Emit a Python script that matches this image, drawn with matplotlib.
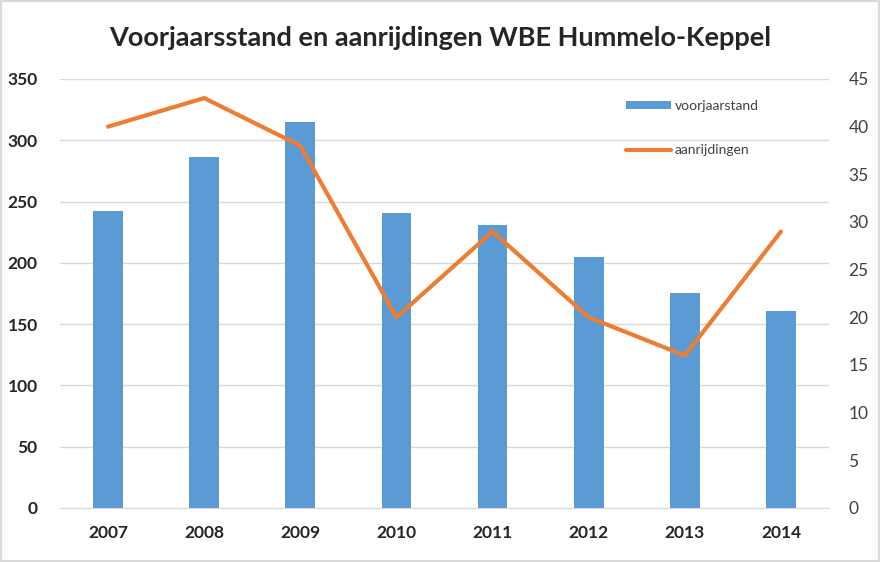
import numpy as np
import matplotlib
matplotlib.use('Agg')
import matplotlib.pyplot as plt
from matplotlib.patches import Rectangle

plt.rcParams['font.family'] = ['Lato', 'DejaVu Sans']

#-------------------------------------------------------------------------------
#DATA

years = ['2007', '2008', '2009', '2010', '2011', '2012', '2013', '2014']
voorjaarstand = [242, 286, 315, 241, 231, 205, 175, 161]
aanrijdingen = [40, 43, 38, 20, 29, 20, 16, 29]

title = 'Voorjaarsstand en aanrijdingen WBE Hummelo-Keppel'
blue = '#5B9BD5'
orange = '#ED7D31'
grid = '#D9D9D9'
txt = '#262626'

#-------------------------------------------------------------------------------
#PLOT

fig = plt.figure(figsize=(8.8, 5.62), dpi=100)
ax = fig.add_axes([60/880, 1 - 508/562, 769/880, 429/562])
ax2 = ax.twinx()

x = np.arange(len(years))
ax.bar(x, voorjaarstand, width=0.31, color=blue, zorder=2, label='voorjaarstand')
ax2.plot(x, aanrijdingen, color=orange, lw=3, solid_capstyle='round',
         solid_joinstyle='round', label='aanrijdingen')

ax.set_xlim(-0.5, len(years) - 0.5)
ax.set_ylim(0, 350)
ax.set_yticks(np.arange(0, 351, 50))
ax2.set_ylim(0, 45)
ax2.set_yticks(np.arange(0, 46, 5))
ax.set_xticks(x)
ax.set_xticklabels(years)

ax.grid(axis='y', color=grid, lw=1, zorder=0)
ax.set_axisbelow(True)
for a in (ax, ax2):
    for s in a.spines.values():
        s.set_visible(False)
    a.tick_params(length=0)
ax.spines['bottom'].set_visible(True)
ax.spines['bottom'].set_color(grid)

for lab in ax.get_yticklabels() + ax.get_xticklabels():
    lab.set_fontweight('bold')
    lab.set_fontsize(12.5)
    lab.set_color(txt)
for lab in ax2.get_yticklabels():
    lab.set_fontsize(12.5)
    lab.set_color('#404040')
ax.tick_params(axis='y', pad=16)
ax.tick_params(axis='x', pad=12)
ax2.tick_params(axis='y', pad=14)

fig.text(0.5, 1 - 38/562, title, ha='center', va='center', fontsize=19.5,
         fontweight='bold', color=txt)

#legend entries spaced apart like the original
h1, l1 = ax.get_legend_handles_labels()
h2, l2 = ax2.get_legend_handles_labels()
leg = ax2.legend(h1 + h2, l1 + l2, loc='upper left', bbox_to_anchor=(0.72, 0.98),
                 frameon=False, fontsize=10, labelspacing=2.3, handlelength=3.2,
                 handletextpad=0.3, handleheight=0.5, labelcolor='#404040')

fig.patches.append(Rectangle((0, 0), 1, 1, transform=fig.transFigure,
                             fill=False, edgecolor='#D9D9D9', lw=3))

fig.savefig('out.png', dpi=100)
